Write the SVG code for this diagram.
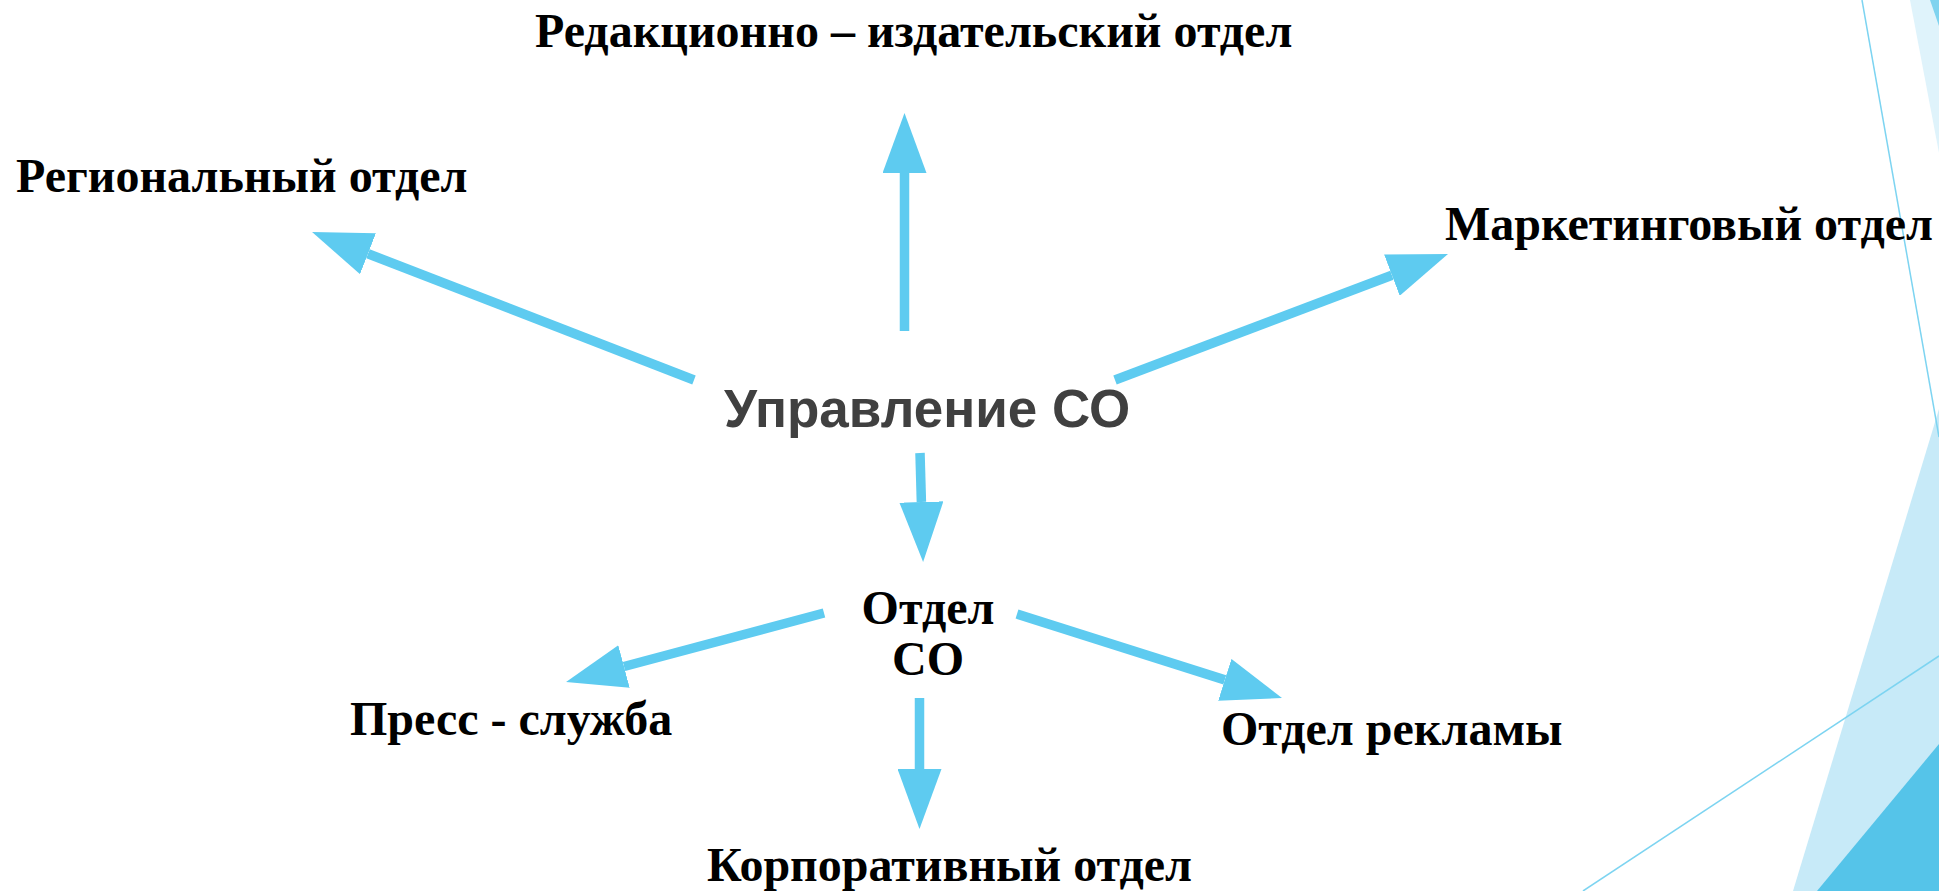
<svg xmlns="http://www.w3.org/2000/svg" width="1939" height="891" viewBox="0 0 1939 891">
<style>
.lbl{font-family:"Liberation Serif","Times New Roman",serif;font-weight:bold;font-size:48px;fill:#000}
.main{font-family:"Liberation Sans",Arial,sans-serif;font-weight:bold;font-size:53px;fill:#404040}
.arr{stroke:#5ECBF0;stroke-width:9.5;fill:none;marker-end:url(#ah)}
</style>
<defs>
<marker id="ah" markerUnits="userSpaceOnUse" viewBox="0 0 60 44" refX="0" refY="22" markerWidth="60" markerHeight="44" orient="auto">
<path d="M0,0 L60,22 L0,44 z" fill="#5ECBF0"/>
</marker>
</defs>
<rect width="1939" height="891" fill="#fff"/>
<g id="decor">
<polygon points="1910,0 1939,0 1939,153" fill="#DFF3FB"/>
<polygon points="1930,0 1939,0 1939,26" fill="#7FD3EF"/>
<polygon points="1939,409 1793,891 1939,891" fill="#C7EAF8"/>
<polygon points="1939,744 1817,891 1939,891" fill="#55C4E9"/>
<line x1="1862" y1="0" x2="1939" y2="437" stroke="#7DD4F1" stroke-width="1.5"/>
<line x1="1583" y1="891" x2="1939" y2="656" stroke="#7DD4F1" stroke-width="1.5"/>
</g>
<g id="connectors">
<line class="arr" x1="904.5" y1="331" x2="904.5" y2="173"/>
<line class="arr" x1="694" y1="380" x2="368" y2="253.7"/>
<line class="arr" x1="1115" y1="380" x2="1391.9" y2="275.2"/>
<line class="arr" x1="920" y1="453" x2="921.4" y2="502"/>
<line class="arr" x1="824" y1="613" x2="624" y2="666.5"/>
<line class="arr" x1="1017" y1="614" x2="1224.8" y2="679.9"/>
<line class="arr" x1="919.5" y1="698" x2="919.5" y2="769"/>
</g>
<g id="n-upr"><text class="main" x="724" y="427">Управление СО</text></g>
<g id="n-red"><text class="lbl" x="535" y="47">Редакционно – издательский отдел</text></g>
<g id="n-reg"><text class="lbl" x="16" y="192">Региональный отдел</text></g>
<g id="n-mark"><text class="lbl" x="1445" y="240">Маркетинговый отдел</text></g>
<g id="n-otdel"><text class="lbl" x="928" y="624" text-anchor="middle">Отдел</text><text class="lbl" x="928" y="675" text-anchor="middle">СО</text></g>
<g id="n-press"><text class="lbl" x="350" y="735">Пресс - служба</text></g>
<g id="n-rekl"><text class="lbl" x="1221" y="745">Отдел рекламы</text></g>
<g id="n-korp"><text class="lbl" x="707" y="881">Корпоративный отдел</text></g>
</svg>
